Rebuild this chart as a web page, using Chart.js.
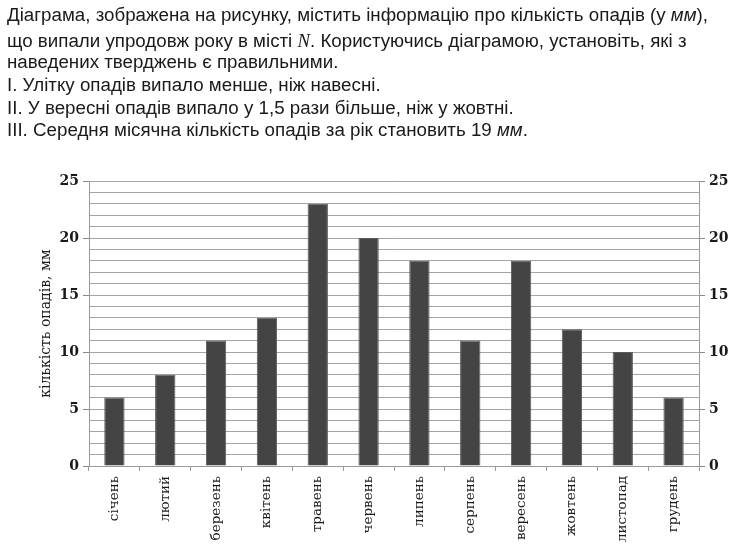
<!DOCTYPE html>
<html>
<head>
<meta charset="utf-8">
<script src="https://cdn.jsdelivr.net/npm/chart.js@4.4.1/dist/chart.umd.min.js"></script>
<style>
  html, body { margin: 0; padding: 0; background: #fff; }
  #wrap { position: relative; width: 742px; height: 559px; overflow: hidden; }
  #c { position: absolute; left: 0; top: 0; }
  #txt { position: absolute; left: 7px; top: 0; font-family: 'Liberation Sans Narrow', 'Arial Narrow', 'Liberation Sans', sans-serif; font-size: 18px; color: #1a1a1a; white-space: nowrap; transform-origin: 0 0; }
  .ln { position: absolute; left: 0; line-height: 20px; }
  .it { font-style: italic; }
  .ser { font-family: 'Liberation Serif', serif; font-style: italic; }
</style>
</head>
<body>
<div id="wrap">
  <canvas id="c" width="742" height="559"></canvas>
  <div id="txt">
    <div class="ln" id="l1" style="top:5px">Діаграма, зображена на рисунку, містить інформацію про кількість опадів (у <span class="it">мм</span>),</div>
    <div class="ln" style="top:31px">що випали упродовж року в місті <span class="ser">N</span>. Користуючись діаграмою, установіть, які з</div>
    <div class="ln" style="top:52px">наведених тверджень є правильними.</div>
    <div class="ln" style="top:75px">І. Улітку опадів випало менше, ніж навесні.</div>
    <div class="ln" style="top:98px">ІІ. У вересні опадів випало у 1,5 рази більше, ніж у жовтні.</div>
    <div class="ln" style="top:120px">ІІІ. Середня місячна кількість опадів за рік становить 19 <span class="it">мм</span>.</div>
  </div>
</div>
<script>
const months = ['січень','лютий','березень','квітень','травень','червень','липень','серпень','вересень','жовтень','листопад','грудень'];
const precipitation = [6, 8, 11, 13, 23, 20, 18, 11, 18, 12, 10, 6];
const yMin = 0;
const yMax = 25;
const yGridStep = 1;
const yLabelStep = 5;
const yTitle = 'кількість опадів, мм';

// fit header width
(function(){
  const l1 = document.getElementById('l1');
  const w = l1.getBoundingClientRect().width;
  const s = 701 / w;
  document.getElementById('txt').style.transform = 'scaleX(' + s + ')';
})();

const tickFont = { family: "'DejaVu Serif', serif", size: 14, weight: 'bold' };
const majorTick = (ctx) => (ctx.tick && ctx.tick.value % yLabelStep === 0) ? '#8a8a8a' : 'rgba(0,0,0,0)';
const yTickLabel = (v) => (v % yLabelStep === 0 ? v : '');

new Chart(document.getElementById('c'), {
  type: 'bar',
  data: {
    labels: months,
    datasets: [{
      data: precipitation,
      backgroundColor: '#444444',
      borderColor: '#5c5c5c',
      borderWidth: 1,
      barPercentage: 0.4,
      categoryPercentage: 1.0
    }]
  },
  options: {
    responsive: false,
    animation: false,
    devicePixelRatio: 1,
    layout: { padding: { top: 181, left: 0, right: 0, bottom: 0 } },
    plugins: { legend: { display: false }, tooltip: { enabled: false } },
    scales: {
      x: {
        offset: true,
        grid: { drawOnChartArea: false, drawTicks: true, tickLength: 5, tickColor: '#9a9a9a', offset: true },
        border: { display: true, color: '#9a9a9a' },
        ticks: { autoSkip: false, minRotation: 90, maxRotation: 90, padding: 5, color: '#1a1a1a', font: { family: "'DejaVu Serif', serif", size: 13.5 } },
        afterFit: (s) => { s.height = 93; }
      },
      y: {
        position: 'left',
        min: yMin, max: yMax,
        grid: { color: '#a4a4a4', lineWidth: 1, drawTicks: true, tickLength: 6, tickColor: majorTick },
        border: { display: true, color: '#9a9a9a' },
        ticks: { stepSize: yGridStep, autoSkip: false, padding: 4, color: '#1a1a1a', font: tickFont, callback: yTickLabel },
        title: { display: true, text: yTitle, color: '#1a1a1a', font: { family: "'DejaVu Serif', serif", size: 14 }, padding: { top: 38, bottom: 0 } },
        afterFit: (s) => { s.width = 89; }
      },
      y2: {
        position: 'right',
        min: yMin, max: yMax,
        grid: { drawOnChartArea: false, drawTicks: true, tickLength: 6, tickColor: majorTick },
        border: { display: true, color: '#9a9a9a' },
        ticks: { stepSize: yGridStep, autoSkip: false, padding: 4, color: '#1a1a1a', font: tickFont, callback: yTickLabel },
        afterFit: (s) => { s.width = 43; }
      }
    }
  }
});
</script>
</body>
</html>
